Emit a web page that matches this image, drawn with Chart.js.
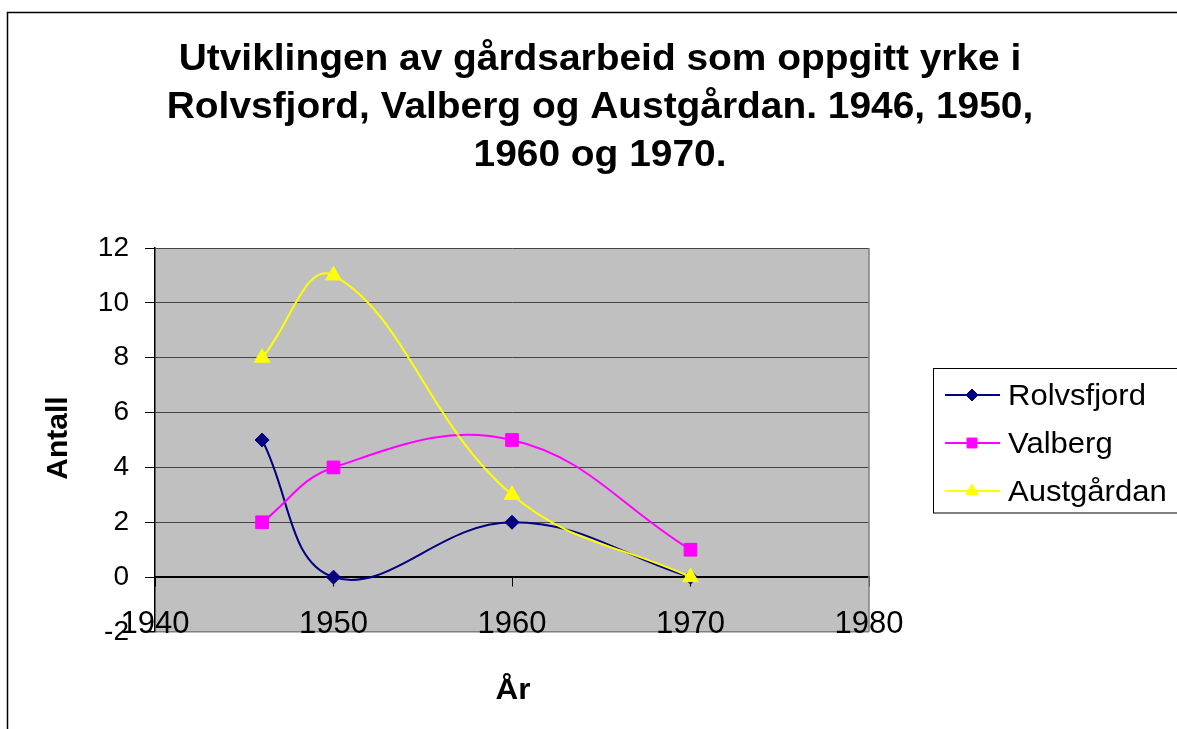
<!DOCTYPE html>
<html><head><meta charset="utf-8">
<script src="https://cdn.jsdelivr.net/npm/chart.js@4.4.0/dist/chart.umd.min.js"></script>
<style>html,body{margin:0;padding:0;background:#fff;overflow:hidden}</style>
</head><body>
<canvas id="c" width="1177" height="729" style="display:block;width:1177px;height:729px"></canvas>
<script>
// ---- data ----
const titleLines = ['Utviklingen av gårdsarbeid som oppgitt yrke i', 'Rolvsfjord, Valberg og Austgårdan. 1946, 1950,', '1960 og 1970.'];
const years = [1946, 1950, 1960, 1970];
const rolvsfjord = [5, 0, 2, 0];
const valberg = [2, 4, 5, 1];
const austgardan = [8, 11, 3, 0];
const seriesNames = ['Rolvsfjord', 'Valberg', 'Austgårdan'];
const xTicks = [1940, 1950, 1960, 1970, 1980];
const yTicks = [-2, 0, 2, 4, 6, 8, 10, 12];
const xTitle = 'År';
const yTitle = 'Antall';

const FONT = '"Liberation Sans", Arial, sans-serif';
const colors = ['#000080', '#FF00FF', '#FFFF00'];
const styles = ['rectRot', 'rect', 'triangle'];
const radii = [7, 9, 9];
const legendRadii = [6, 7, 7];
const seriesValues = [rolvsfjord, valberg, austgardan];

const datasets = seriesNames.map((name, i) => ({
  label: name,
  data: years.map((yr, j) => ({x: yr, y: seriesValues[i][j]})),
  borderColor: colors[i],
  backgroundColor: colors[i],
  pointBackgroundColor: colors[i],
  pointBorderColor: colors[i],
  pointBorderWidth: 1,
  pointStyle: styles[i],
  pointRadius: radii[i],
  borderWidth: 2,
  tension: 0.4,
  order: 2 - i
}));

function drawText(ctx, text, x, y, font, sx, align) {
  ctx.save();
  ctx.font = font;
  ctx.fillStyle = '#000';
  ctx.textBaseline = 'alphabetic';
  ctx.textAlign = align || 'center';
  ctx.translate(x, y);
  ctx.scale(sx, 1);
  ctx.fillText(text, 0, 0);
  ctx.restore();
}

const decor = {
  id: 'decor',
  beforeDraw(chart) {
    const {ctx, chartArea: a} = chart;
    ctx.save();
    ctx.fillStyle = '#fff';
    ctx.fillRect(0, 0, chart.width, chart.height);
    ctx.strokeStyle = '#000';
    ctx.lineWidth = 1.5;
    ctx.strokeRect(7.5, 12.5, 1300, 800);
    ctx.fillStyle = '#C0C0C0';
    ctx.fillRect(a.left, a.top, a.right - a.left, a.bottom - a.top);
    ctx.restore();
  },
  beforeDatasetsDraw(chart) {
    const {ctx, chartArea: a} = chart;
    ctx.save();
    ctx.strokeStyle = '#808080';
    ctx.lineWidth = 1.5;
    ctx.beginPath();
    ctx.moveTo(a.right, a.top);
    ctx.lineTo(a.right, a.bottom);
    ctx.stroke();
    ctx.restore();
  },
  afterDraw(chart) {
    const {ctx} = chart;
    const tf = 'bold 36px ' + FONT;
    titleLines.forEach((t, i) => drawText(ctx, t, 600, 70 + i * 48, tf, 1.08));
    drawText(ctx, xTitle, 513, 699, 'bold 30px ' + FONT, 1.05);
    ctx.save();
    ctx.translate(67, 438);
    ctx.rotate(-Math.PI / 2);
    ctx.font = 'bold 30px ' + FONT;
    ctx.fillStyle = '#000';
    ctx.textAlign = 'center';
    ctx.textBaseline = 'alphabetic';
    ctx.fillText(yTitle, 0, 0);
    ctx.restore();
    // legend
    ctx.save();
    ctx.fillStyle = '#fff';
    ctx.fillRect(933.5, 368.5, 300, 144.5);
    ctx.strokeStyle = '#000';
    ctx.lineWidth = 1;
    ctx.strokeRect(933.5, 368.5, 300, 144.5);
    seriesNames.forEach((name, i) => {
      const y = 395 + i * 48;
      ctx.strokeStyle = colors[i];
      ctx.lineWidth = 2;
      ctx.beginPath();
      ctx.moveTo(945, y);
      ctx.lineTo(1000, y);
      ctx.stroke();
      ctx.fillStyle = colors[i];
      ctx.strokeStyle = colors[i];
      ctx.lineWidth = 1;
      Chart.helpers.drawPoint(ctx, {pointStyle: styles[i], radius: legendRadii[i], borderWidth: 1, rotation: 0}, 972, y);
      drawText(ctx, name, 1008, y + 10, '29px ' + FONT, 1.07, 'left');
    });
    ctx.restore();
  }
};

new Chart(document.getElementById('c'), {
  type: 'line',
  data: {datasets},
  plugins: [decor],
  options: {
    responsive: false,
    animation: false,
    devicePixelRatio: 1,
    layout: {autoPadding: false, padding: {left: 0, top: 248, right: 308, bottom: 97}},
    plugins: {legend: {display: false}, title: {display: false}, tooltip: {enabled: false}},
    scales: {
      x: {
        type: 'linear',
        position: {y: 0},
        min: 1940, max: 1980,
        afterBuildTicks: s => { s.ticks = xTicks.map(v => ({value: v})); },
        ticks: {
          callback: v => String(v),
          font: {family: FONT, size: 31},
          color: '#000',
          padding: 20,
          maxRotation: 0,
          autoSkip: false
        },
        grid: {drawOnChartArea: false, drawTicks: true, tickLength: 9, color: '#000', tickWidth: 1},
        border: {display: true, color: '#000', width: 1.5}
      },
      y: {
        type: 'linear',
        position: 'left',
        min: -2, max: 12,
        afterBuildTicks: s => { s.ticks = yTicks.map(v => ({value: v})); },
        afterFit: s => { s.width = 155; },
        ticks: {
          callback: v => String(v),
          font: {family: FONT, size: 28},
          color: '#000',
          padding: 16
        },
        grid: {
          color: c => (c.tick && c.tick.value === 0) ? '#000' : (c.tick && c.tick.value === -2 ? '#808080' : '#444'),
          lineWidth: c => (c.tick && (c.tick.value === -2)) ? 1.5 : 1,
          tickColor: '#000',
          tickLength: 10,
          drawTicks: true
        },
        border: {display: true, color: '#000', width: 1.5}
      }
    }
  }
});
</script>
</body></html>
